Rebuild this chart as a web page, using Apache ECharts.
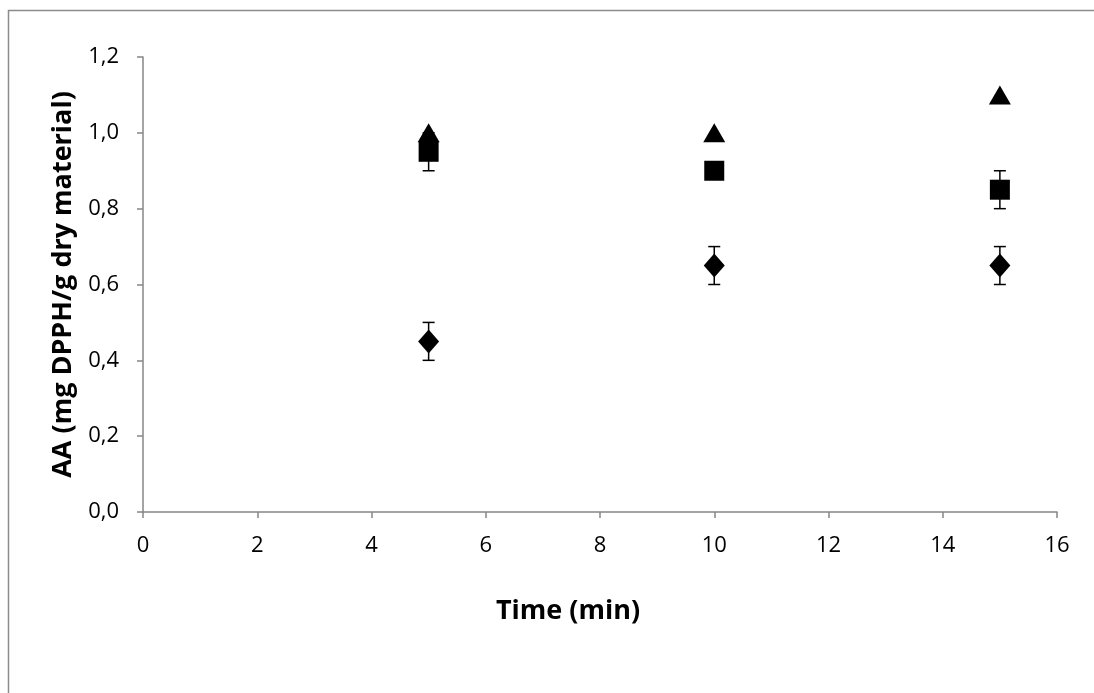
<!DOCTYPE html>
<html>
<head>
<meta charset="utf-8">
<script src="https://cdn.jsdelivr.net/npm/echarts@6/dist/echarts.min.js"></script>
<style>html,body{margin:0;padding:0;background:#fff;}#c{width:1094px;height:693px;}</style>
</head>
<body>
<div id="c"></div>
<script>
const times = [5, 10, 15];
const diamondValues = [0.45, 0.65, 0.65];
const diamondErrors = [0.05, 0.05, 0.05];
const squareValues = [0.95, 0.90, 0.85];
const squareErrors = [0.05, 0, 0.05];
const triangleValues = [1.0, 1.0, 1.1];
const triangleErrors = [0, 0, 0];
const xTitle = 'Time (min)';
const yTitle = 'AA (mg DPPH/g dry material)';

const FONT = '"Open Sans", "Liberation Sans", sans-serif';

function pts(vals) { return times.map((t, i) => [t, vals[i]]); }
function errData(vals, errs) { return times.map((t, i) => [t, vals[i] - errs[i], vals[i] + errs[i]]); }

function errSeries(vals, errs) {
  return {
    type: 'custom',
    data: errData(vals, errs),
    z: 1,
    renderItem: function (params, api) {
      const x = api.value(0);
      const lo = api.coord([x, api.value(1)]);
      const hi = api.coord([x, api.value(2)]);
      if (Math.abs(lo[1] - hi[1]) < 0.5) return { type: 'group', children: [] };
      const w = 6;
      const st = { stroke: '#000', lineWidth: 1.5 };
      return {
        type: 'group',
        children: [
          { type: 'line', shape: { x1: lo[0], y1: lo[1], x2: hi[0], y2: hi[1] }, style: st },
          { type: 'line', shape: { x1: lo[0] - w, y1: lo[1], x2: lo[0] + w, y2: lo[1] }, style: st },
          { type: 'line', shape: { x1: hi[0] - w, y1: hi[1], x2: hi[0] + w, y2: hi[1] }, style: st }
        ]
      };
    }
  };
}

const mark = { color: '#000', opacity: 1 };

const chart = echarts.init(document.getElementById('c'), null, { renderer: 'canvas' });
chart.setOption({
  backgroundColor: '#fff',
  animation: false,
  graphic: [{
    type: 'rect', shape: { x: 8.5, y: 10.5, width: 1100, height: 700 },
    style: { fill: 'none', stroke: '#8c8c8c', lineWidth: 1.5 }, silent: true, z: -10
  }],
  grid: { left: 143, right: 37, top: 57, bottom: 181, containLabel: false },
  xAxis: {
    type: 'value', min: 0, max: 16, interval: 2,
    name: xTitle, nameLocation: 'middle', nameGap: 86,
    nameTextStyle: { fontFamily: FONT, fontSize: 27, fontWeight: 'bold', color: '#000', padding: [0, 64, 0, 0] },
    axisLine: { onZero: false, lineStyle: { color: '#868686', width: 1.5 } },
    axisTick: { show: true, length: 6, lineStyle: { color: '#868686', width: 1.5 } },
    axisLabel: { fontFamily: FONT, fontSize: 22, color: '#000', margin: 23 },
    splitLine: { show: false }
  },
  yAxis: {
    type: 'value', min: 0, max: 1.2, interval: 0.2,
    name: yTitle, nameLocation: 'middle', nameGap: 66, nameRotate: 90,
    nameTextStyle: { fontFamily: FONT, fontSize: 27, fontWeight: 'bold', color: '#000' },
    axisLine: { show: true, onZero: false, lineStyle: { color: '#868686', width: 1.5 } },
    axisTick: { show: true, length: 6, lineStyle: { color: '#868686', width: 1.5 } },
    axisLabel: { fontFamily: FONT, fontSize: 22, color: '#000', margin: 24,
      formatter: v => v.toFixed(1).replace('.', ',') },
    splitLine: { show: false }
  },
  series: [
    errSeries(diamondValues, diamondErrors),
    errSeries(squareValues, squareErrors),
    errSeries(triangleValues, triangleErrors),
    { type: 'scatter', data: pts(diamondValues), symbol: 'diamond', symbolSize: [21, 24],
      itemStyle: mark, z: 3 },
    { type: 'scatter', data: pts(triangleValues), symbol: 'triangle', symbolSize: [22, 19],
      itemStyle: mark, z: 3 },
    { type: 'scatter', data: pts(squareValues), symbol: 'rect', symbolSize: [20, 20],
      itemStyle: mark, z: 3 }
  ]
});
</script>
</body>
</html>
